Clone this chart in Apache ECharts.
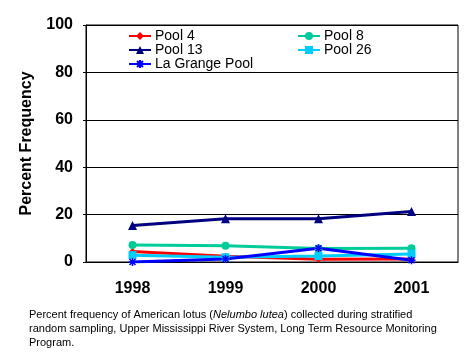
<!DOCTYPE html>
<html><head><meta charset="utf-8">
<script src="https://cdn.jsdelivr.net/npm/echarts@6/dist/echarts.min.js"></script>
<style>html,body{margin:0;padding:0;background:#fff}#c{width:468px;height:360px}</style>
</head><body><div id="c"></div>
<script>
const years = ['1998', '1999', '2000', '2001'];
const pool4 = [4.4, 2.4, 1.2, 1.3];
const pool8 = [7.2, 6.9, 5.7, 5.8];
const pool13 = [15.4, 18.2, 18.2, 21.3];
const pool26 = [2.9, 2.0, 2.5, 3.4];
const laGrange = [0.0, 1.3, 5.8, 0.7];
const yTicks = [0, 20, 40, 60, 80, 100];

const asterisk = 'path://M0,-1L0,1M-1,0L1,0M-0.75,-0.75L0.75,0.75M-0.75,0.75L0.75,-0.75';
const FONT = 'Liberation Sans, Arial, sans-serif';

function mk(name, data, color, symbol, size, extra) {
  return Object.assign({
    name, type: 'line', data, symbol, symbolSize: size,
    lineStyle: { color, width: 3 },
    itemStyle: { color },
    emphasis: { disabled: true },
    animation: false
  }, extra || {});
}

const legendText = { fontFamily: FONT, fontSize: 14, lineHeight: 14, color: '#000', padding: [0, 0, 0, -1] };

const chart = echarts.init(document.getElementById('c'), null, { renderer: 'canvas' });
chart.setOption({
  animation: false,
  grid: { left: 86, right: 10, top: 25, bottom: 98, show: true, borderColor: '#000', borderWidth: 1, containLabel: false },
  xAxis: {
    type: 'category', data: years, boundaryGap: true,
    axisLine: { lineStyle: { color: '#000', width: 1 } },
    axisTick: { inside: true, length: 4, lineStyle: { color: '#000' } },
    axisLabel: { fontFamily: FONT, fontSize: 16, fontWeight: 'bold', color: '#000', margin: 19 },
    splitLine: { show: false }
  },
  yAxis: {
    type: 'value', min: 0, max: 100, interval: 20,
    name: 'Percent Frequency', nameLocation: 'middle', nameGap: 51,
    nameTextStyle: { fontFamily: FONT, fontSize: 16, fontWeight: 'bold', color: '#000' },
    axisLine: { show: true, lineStyle: { color: '#000' } },
    axisTick: { show: true, length: 3, lineStyle: { color: '#000' } },
    axisLabel: { fontFamily: FONT, fontSize: 16, fontWeight: 'bold', color: '#000', margin: 13,
      formatter: v => yTicks.includes(v) ? String(v) : '' },
    splitLine: { show: true, lineStyle: { color: '#000', width: 1 } }
  },
  legend: [
    { data: ['Pool 4', 'Pool 13', 'La Grange Pool'], orient: 'vertical', left: 128, top: 29,
      itemWidth: 22, itemHeight: 10, itemGap: 0, padding: 0, textStyle: legendText },
    { data: ['Pool 8', 'Pool 26'], orient: 'vertical', left: 297, top: 29,
      itemWidth: 22, itemHeight: 10, itemGap: 0, padding: 0, textStyle: legendText }
  ],
  series: [
    mk('Pool 4', pool4, '#FF0000', 'diamond', 7),
    mk('Pool 8', pool8, '#00CC99', 'circle', 8),
    mk('Pool 13', pool13, '#000080', 'triangle', 9),
    mk('Pool 26', pool26, '#00CCFF', 'rect', 8),
    mk('La Grange Pool', laGrange, '#0000FF', asterisk, 8,
      { itemStyle: { color: '#0000FF', borderColor: '#0000FF', borderWidth: 1.5 } })
  ],
  graphic: [
    { type: 'text', left: 29, top: 309, style: {
      text: '{n|Percent frequency of American lotus (}{i|Nelumbo lutea}{n|) collected during stratified}',
      rich: { n: { fontFamily: FONT, fontSize: 11, fill: '#000' }, i: { fontFamily: FONT, fontSize: 11, fontStyle: 'italic', fill: '#000' } } } },
    { type: 'text', left: 29, top: 323, style: {
      text: 'random sampling, Upper Mississippi River System, Long Term Resource Monitoring',
      fontFamily: FONT, fontSize: 11, fill: '#000' } },
    { type: 'text', left: 29, top: 337, style: {
      text: 'Program.', fontFamily: FONT, fontSize: 11, fill: '#000' } }
  ]
});
</script></body></html>
